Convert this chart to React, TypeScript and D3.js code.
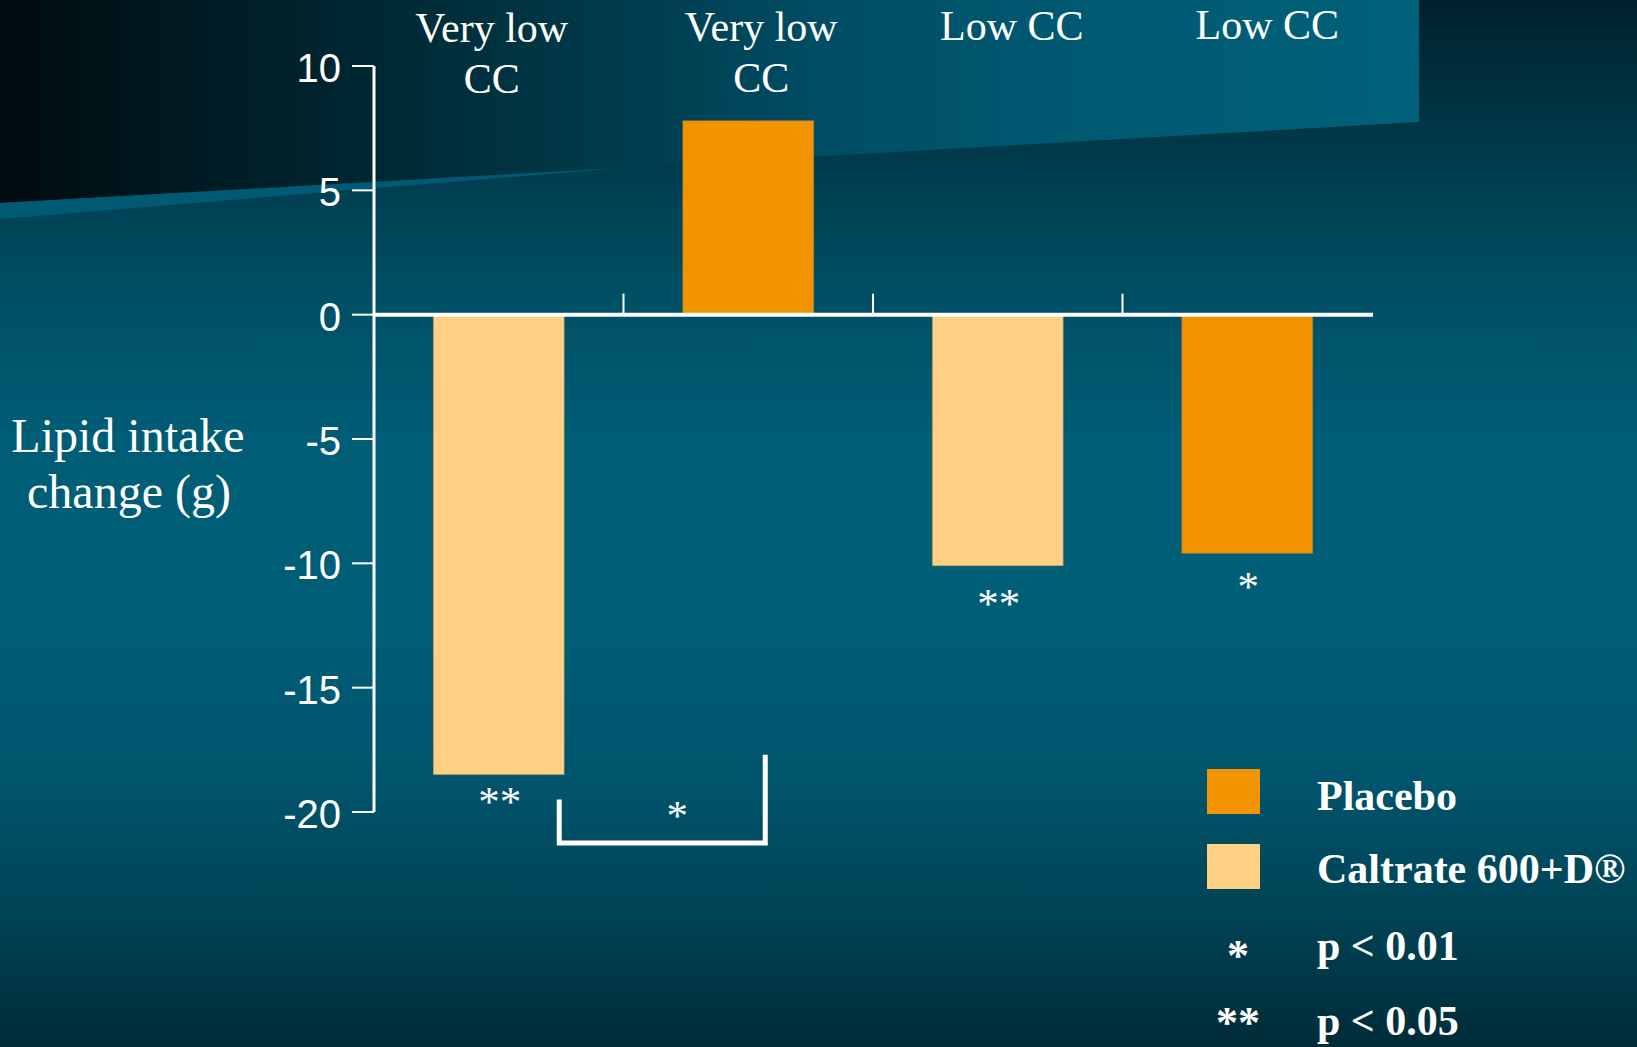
import React from "react";
import * as d3 from "d3";

// Lipid intake change by calcium-consumption group and treatment
const groupLabels: string[][] = [["Very low", "CC"], ["Very low", "CC"], ["Low CC"], ["Low CC"]];
const treatments = ["Caltrate 600+D®", "Placebo", "Caltrate 600+D®", "Placebo"];
const values = [-18.5, 7.8, -10.1, -9.6];
const significance = ["**", "", "**", "*"];
const yTicks = [10, 5, 0, -5, -10, -15, -20];
const legendSeries = ["Placebo", "Caltrate 600+D®"];
const legendStars = [
  { mark: "*", text: "p < 0.01" },
  { mark: "**", text: "p < 0.05" },
];
const bracketStar = "*";

// Layout
const W = 1637;
const H = 1047;
const X0 = 374;
const X1 = 1372;
const colors: Record<string, string> = {
  Placebo: "#F29400",
  "Caltrate 600+D®": "#FFD083",
};
const labelNudge = [
  { dx: -7, dy: 0 },
  { dx: 13, dy: -1 },
  { dx: 14, dy: -2 },
  { dx: 20, dy: -3 },
];
const starGap = [41, 0, 52, 48];

const serif = "'Liberation Serif', 'Times New Roman', serif";
const sans = "'Liberation Sans', Arial, sans-serif";

export default function App() {
  const idx = values.map((_, i) => i);
  const x = d3
    .scaleBand<number>()
    .domain(idx)
    .range([X0, X1])
    .paddingInner(0.475)
    .paddingOuter(0.2375);
  const y = d3.scaleLinear().domain([-20, 10]).range([812, 66]);
  const step = x.step();
  const bw = x.bandwidth();
  const cx = (i: number) => (x(i) as number) + bw / 2;

  // bracket comparing the two "very low CC" groups
  const bLeft = (x(0) as number) + bw - 5;
  const bRight = cx(1) + 17;
  const bBottom = y(-21.25);
  const bLeftTop = y(-19.5);
  const bRightTop = y(-17.7);

  return (
    <svg
      width={W}
      height={H}
      viewBox={`0 0 ${W} ${H}`}
      style={{ position: "fixed", left: 0, top: 0, display: "block" }}
    >
      <defs>
        <linearGradient id="bgV" x1="0" y1="0" x2="0" y2="1">
          <stop offset="0" stopColor="#00212c" />
          <stop offset="0.12" stopColor="#003646" />
          <stop offset="0.28" stopColor="#004f64" />
          <stop offset="0.42" stopColor="#005d76" />
          <stop offset="0.6" stopColor="#005e77" />
          <stop offset="0.75" stopColor="#00546b" />
          <stop offset="0.88" stopColor="#004254" />
          <stop offset="1" stopColor="#002b37" />
        </linearGradient>
        <linearGradient id="bandH" x1="0" y1="0" x2="1" y2="0">
          <stop offset="0" stopColor="#000c10" />
          <stop offset="0.2" stopColor="#00212b" />
          <stop offset="0.4" stopColor="#003746" />
          <stop offset="0.58" stopColor="#004d64" />
          <stop offset="0.75" stopColor="#005971" />
          <stop offset="1" stopColor="#00617a" />
        </linearGradient>
      </defs>

      <rect x={0} y={0} width={W} height={H} fill="url(#bgV)" />
      <polygon points="0,0 1419,0 1419,122 0,203" fill="url(#bandH)" />
      <polygon points="0,203 620,168 0,219" fill="#005a74" />

      {/* bars */}
      {values.map((v, i) => (
        <rect
          key={i}
          x={x(i)}
          y={Math.min(y(v), y(0))}
          width={bw}
          height={Math.abs(y(v) - y(0))}
          fill={colors[treatments[i]]}
          stroke="#8a7a55"
          strokeOpacity={0.45}
          strokeWidth={1}
        />
      ))}

      {/* y axis */}
      <line x1={X0} x2={X0} y1={y(10)} y2={y(-20)} stroke="#fff" strokeWidth={3} />
      {yTicks.map((t) => (
        <g key={t}>
          <line x1={X0 - 22} x2={X0} y1={y(t)} y2={y(t)} stroke="#fff" strokeWidth={2} />
          <text
            x={X0 - 33}
            y={y(t) + 16}
            textAnchor="end"
            fill="#fff"
            fontFamily={sans}
            fontSize={40}
          >
            {t}
          </text>
        </g>
      ))}

      {/* x axis at zero with group separators */}
      <line x1={X0} x2={X1 + 1} y1={y(0)} y2={y(0)} stroke="#fff" strokeWidth={4} />
      {[1, 2, 3].map((k) => (
        <line
          key={k}
          x1={X0 + k * step}
          x2={X0 + k * step}
          y1={y(0)}
          y2={y(0) - 21}
          stroke="#fff"
          strokeWidth={2}
        />
      ))}

      {/* group labels */}
      {groupLabels.map((lines, i) => (
        <text
          key={i}
          x={cx(i) + labelNudge[i].dx}
          y={42 + labelNudge[i].dy}
          textAnchor="middle"
          fill="#fff"
          fontFamily={serif}
          fontSize={42}
        >
          {lines.map((ln, j) => (
            <tspan key={j} x={cx(i) + labelNudge[i].dx} dy={j === 0 ? 0 : 51}>
              {ln}
            </tspan>
          ))}
        </text>
      ))}

      {/* significance marks */}
      {significance.map((s, i) =>
        s ? (
          <text
            key={i}
            x={cx(i) + 1}
            y={y(values[i]) + starGap[i]}
            textAnchor="middle"
            fill="#fff"
            fontFamily={serif}
            fontSize={43}
          >
            {s}
          </text>
        ) : null
      )}

      {/* comparison bracket */}
      <path
        d={`M${bLeft},${bLeftTop} L${bLeft},${bBottom} L${bRight},${bBottom} L${bRight},${bRightTop}`}
        fill="none"
        stroke="#fff"
        strokeWidth={5}
      />
      <text
        x={(bLeft + bRight) / 2 + 15}
        y={830}
        textAnchor="middle"
        fill="#fff"
        fontFamily={serif}
        fontSize={43}
      >
        {bracketStar}
      </text>

      {/* y axis title */}
      <text x={128} y={452} textAnchor="middle" fill="#fff" fontFamily={serif} fontSize={48}>
        Lipid intake
      </text>
      <text x={129} y={508} textAnchor="middle" fill="#fff" fontFamily={serif} fontSize={48}>
        change (g)
      </text>

      {/* legend */}
      {legendSeries.map((s, i) => (
        <g key={s}>
          <rect x={1207} y={769 + i * 75} width={53} height={45} fill={colors[s]} />
          <text
            x={1317}
            y={810 + i * 73}
            fill="#fff"
            fontFamily={serif}
            fontWeight="bold"
            fontSize={42}
          >
            {s}
          </text>
        </g>
      ))}
      {legendStars.map((d, i) => (
        <g key={d.text}>
          <text
            x={1238}
            y={970 + i * 67}
            textAnchor="middle"
            fill="#fff"
            fontFamily={serif}
            fontWeight="bold"
            fontSize={44}
          >
            {d.mark}
          </text>
          <text
            x={1317}
            y={960 + i * 75}
            fill="#fff"
            fontFamily={serif}
            fontWeight="bold"
            fontSize={42}
          >
            {d.text}
          </text>
        </g>
      ))}
    </svg>
  );
}
